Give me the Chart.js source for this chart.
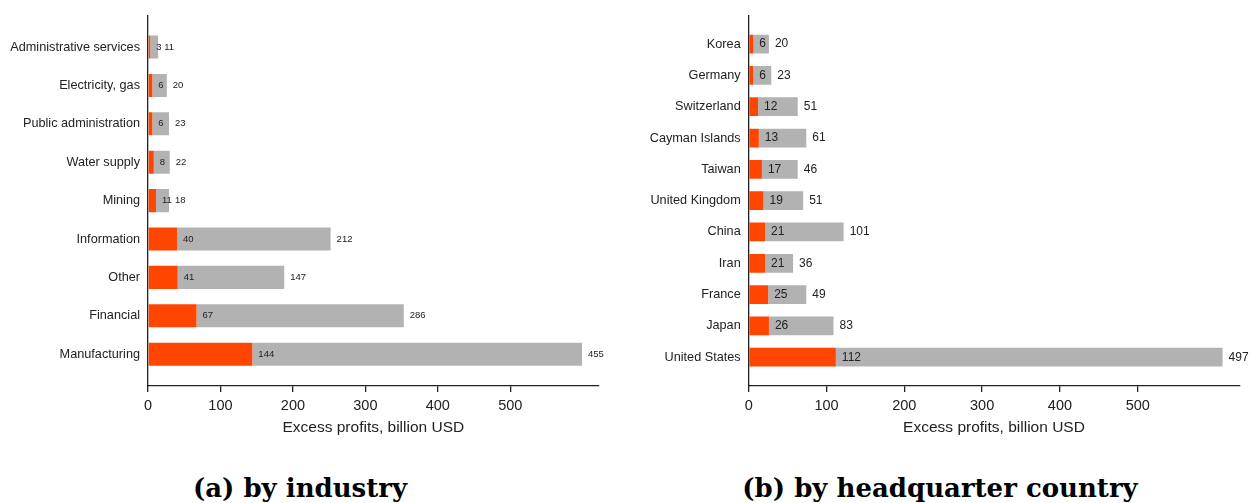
<!DOCTYPE html>
<html>
<head>
<meta charset="utf-8">
<script src="https://cdn.jsdelivr.net/npm/chart.js@4.4.1/dist/chart.umd.min.js"></script>
<style>
  body { margin: 0; width: 1252px; height: 503px; background: #fff; position: relative; overflow: hidden; }
  .box { position: absolute; top: 0; height: 445px; }
  .cap { position: absolute; top: 472px; line-height: 32px; font-family: "DejaVu Serif", serif; font-weight: bold; font-size: 26px; color: #000; transform: translateX(-50%); white-space: nowrap; }
</style>
</head>
<body>
<div class="box" style="left:0;width:620px"><canvas id="industryChart"></canvas></div>
<div class="box" style="left:620px;width:632px"><canvas id="countryChart"></canvas></div>
<div class="cap" style="left:300px">(a) by industry</div>
<div class="cap" style="left:940px">(b) by headquarter country</div>
<script>
// values (billion USD), top to bottom
const industries = ['Administrative services', 'Electricity, gas', 'Public administration', 'Water supply', 'Mining', 'Information', 'Other', 'Financial', 'Manufacturing'];
const industryRed = [3, 6, 6, 8, 11, 40, 41, 67, 144];
const industryGrey = [11, 20, 23, 22, 18, 212, 147, 286, 455];

const countries = ['Korea', 'Germany', 'Switzerland', 'Cayman Islands', 'Taiwan', 'United Kingdom', 'China', 'Iran', 'France', 'Japan', 'United States'];
const countryRed = [6, 6, 12, 13, 17, 19, 21, 21, 25, 26, 112];
const countryGrey = [20, 23, 51, 61, 46, 51, 101, 36, 49, 83, 497];

const xTicks = [0, 100, 200, 300, 400, 500];

const RED = '#ff4500';
const GREY = '#b2b2b2';
const INK = '#222';

Chart.defaults.font.family = '"Liberation Sans", Arial, sans-serif';
Chart.defaults.color = INK;

// numbers next to the bars
const valueLabels = {
  id: 'valueLabels',
  afterDatasetsDraw(chart, args, opts) {
    const ctx = chart.ctx;
    ctx.save();
    ctx.font = opts.size + 'px "Liberation Sans", Arial, sans-serif';
    ctx.fillStyle = INK;
    ctx.textAlign = 'left';
    ctx.textBaseline = 'middle';
    chart.data.datasets.forEach((ds, d) => {
      chart.getDatasetMeta(d).data.forEach((bar, i) => {
        ctx.fillText(ds.data[i].x, bar.x + 6, bar.y);
      });
    });
    ctx.restore();
  }
};

function makeChart(id, cats, red, grey, o) {
  return new Chart(document.getElementById(id), {
    type: 'bar',
    data: {
      datasets: [
        { data: red.map((v, i) => ({ x: v, y: i })), backgroundColor: RED, borderWidth: 0, barPercentage: 0.6, categoryPercentage: 1 },
        { data: grey.map((v, i) => ({ x: v, y: i })), backgroundColor: GREY, borderWidth: 0, barPercentage: 0.6, categoryPercentage: 1 }
      ]
    },
    options: {
      indexAxis: 'y',
      responsive: true,
      maintainAspectRatio: false,
      animation: false,
      layout: { padding: { top: 13.5, right: o.right, left: 0, bottom: 0 } },
      plugins: {
        legend: { display: false },
        tooltip: { enabled: false },
        valueLabels: { size: o.valueSize }
      },
      scales: {
        x: {
          type: 'linear',
          stacked: true,
          min: 0,
          max: o.xMax,
          afterFit: s => { s.height = 59; },
          afterBuildTicks: s => { s.ticks = xTicks.map(v => ({ value: v })); },
          grid: { drawOnChartArea: false, tickLength: 6, color: INK, lineWidth: 1.3 },
          border: { color: INK, width: 1.3 },
          ticks: { padding: 5, font: { size: 14.5 } },
          title: { display: true, text: 'Excess profits, billion USD', font: { size: 15.5 }, padding: { top: 0, bottom: 8 } }
        },
        y: {
          type: 'linear',
          stacked: true,
          reverse: true,
          offset: false,
          min: o.yMin,
          max: o.yMax,
          afterFit: s => { s.width = o.yWidth; },
          afterBuildTicks: s => { s.ticks = cats.map((c, i) => ({ value: i })); },
          grid: { drawOnChartArea: false, drawTicks: false, offset: false },
          border: { color: INK, width: 1.3 },
          ticks: { padding: 8, autoSkip: false, font: { size: 12.7 }, callback: v => cats[v] }
        }
      }
    },
    plugins: [valueLabels]
  });
}

makeChart('industryChart', industries, industryRed, industryGrey,
  { xMax: 622, yMin: -0.82, yMax: 8.83, yWidth: 148, right: 21.3, valueSize: 9.5 });
makeChart('countryChart', countries, countryRed, countryGrey,
  { xMax: 630.5, yMin: -0.91, yMax: 10.92, yWidth: 128.7, right: 12.7, valueSize: 12 });
</script>
</body>
</html>
